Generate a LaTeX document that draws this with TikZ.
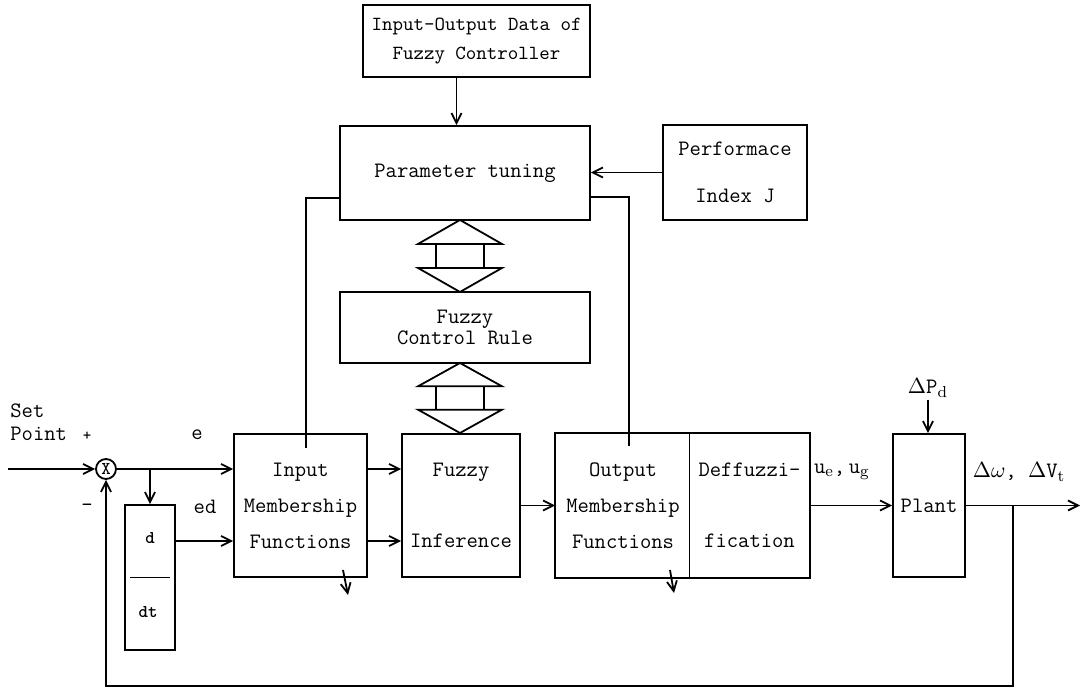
\documentclass[tikz,border=0pt]{standalone}
\usepackage{amsmath}
\usetikzlibrary{arrows.meta}

\tikzset{
  blk/.style={draw, line width=0.9pt, align=center, font=\fontsize{11}{13}\selectfont\ttfamily},
  txt/.style={font=\fontsize{11}{13}\selectfont\ttfamily, inner sep=1pt},
  link/.style={line width=0.9pt},
  >={Straight Barb[length=5pt,width=5pt]}
}

\begin{document}
\begin{tikzpicture}[x=0.5pt,y=-0.5pt]
    \useasboundingbox (0,0) rectangle (1087,688);

    % Draw nodes
    \node[blk, minimum width=113.5pt, minimum height=36pt, font=\fontsize{10}{12}\selectfont\ttfamily] (iodata) at (476.5,41) {Input-Output Data of\\[2.5pt]Fuzzy Controller};
    \node[blk, minimum width=125pt, minimum height=47pt] (tuning) at (465,173) {Parameter tuning};
    \node[blk, minimum width=72pt, minimum height=47.5pt] (perf) at (735,172.5) {Performace\\[10.5pt]Index J};
    \node[blk, minimum width=125pt, minimum height=35.5pt] (rule) at (465,327.5) {Fuzzy\\[-2.5pt]Control Rule};
    \node[blk, minimum width=66.5pt, minimum height=71.5pt] (inmf) at (300.5,505.5) {Input\\[5pt]Membership\\[5pt]Functions};
    \node[blk, minimum width=59pt, minimum height=71.5pt] (infer) at (461,505.5) {Fuzzy\\[22.5pt]Inference};
    \node[blk, draw=none, minimum width=67pt, minimum height=71.5pt] (outmf) at (623,505.5) {Output\\[5pt]Membership\\[5pt]Functions};
    \node[blk, draw=none, minimum width=59.5pt, minimum height=71.5pt] (defz) at (749.5,505.5) {Deffuzzi-\\[22.5pt]fication};
    \node[blk, minimum width=36pt, minimum height=71.5pt] (plant) at (929,505.5) {Plant};
    \node[blk, minimum width=25pt, minimum height=72.5pt] (deriv) at (150,577.5) {};
    \node[circle, draw, line width=0.9pt, minimum size=10pt, inner sep=0pt, font=\fontsize{9}{9}\selectfont\ttfamily] (sum) at (106,469) {X};

    % Output block and its divider
    \draw[link] (outmf.north west) rectangle (defz.south east);
    \draw[line width=0.5pt] (defz.north west) -- (defz.south west);

    % d/dt
    \node[txt, font=\fontsize{9}{11}\selectfont\ttfamily\bfseries] (dnum) at (150,538) {d};
    \node[txt, font=\fontsize{9}{11}\selectfont\ttfamily\bfseries] (dden) at (148,612) {dt};
    \draw[link] ([xshift=3pt]deriv.west) -- ([xshift=-3pt]deriv.east);

    % Labels
    \node[txt, anchor=west, align=left] (setpt) at (8,422.5) {Set\\[-1.5pt]Point};
    \node[txt, font=\fontsize{8}{8}\selectfont\ttfamily] (plus) at (87,436) {+};
    \node[txt] (minus) at (87,508) {-};
    \node[txt] (elbl) at (197,435) {e};
    \node[txt] (edlbl) at (205,507) {ed};
    \node[txt] (ulbl) at (842,472) {u$_\mathrm{e}$,\,u$_\mathrm{g}$};
    \node[txt] (pd) at (928,388) {$\Delta$P$_\mathrm{d}$};
    \node[txt] (ylbl) at (1019,472) {$\Delta\omega$, $\Delta$V$_\mathrm{t}$};

    % Free ends
    \coordinate (sp) at (8,469);
    \coordinate (edrow) at (0,541);
    \coordinate (tapL) at (306,198);
    \coordinate (inp) at (306,448);
    \coordinate (tapR) at (629,197);
    \coordinate (outp) at (629,446);
    \coordinate (fb) at (1013,505.5);
    \coordinate (out) at (1080,505.5);
    \coordinate (bot) at (0,686);
    \coordinate (inA) at (343,570);
    \coordinate (inB) at (348,595);
    \coordinate (outA) at (670,570);
    \coordinate (outB) at (674,593);

    % Draw connections
    \draw[link,->] ([xshift=-10pt]iodata.south) -- ([xshift=-10pt]iodata.south |- tuning.north);
    \draw[link,->] (perf.west) -- (perf.west -| tuning.east);
    \draw[link] (tapL -| tuning.west) -- (tapL) -- (inp);
    \draw[link] (tapR -| tuning.east) -- (tapR) -- (outp);
    \draw[link,->] (sp) -- (sum);
    \draw[link,->] (sum) -- (sum -| inmf.west);
    \draw[link,->] (sum -| deriv.north) -- (deriv.north);
    \draw[link,->] (deriv.east |- edrow) -- (inmf.west |- edrow);
    \draw[link,->] (inmf.east |- sum) -- (infer.west |- sum);
    \draw[link,->] (inmf.east |- edrow) -- (infer.west |- edrow);
    \draw[link,->] (infer.east) -- (outmf.west);
    \draw[link,->] (defz.east) -- (plant.west);
    \draw[link,->] (pd.south) -- (pd.south |- plant.north);
    \draw[link,->] (plant.east) -- (out);
    \draw[link,->] (fb) -- (fb |- bot) -| (sum.south);
    \draw[link,->] (inA) -- (inB);
    \draw[link,->] (outA) -- (outB);

    % Hollow double arrows
    \foreach \ya/\yb in {220/292, 363/433} {
        \pgfmathsetmacro\yc{\ya+(\yb-\ya)/3}
        \pgfmathsetmacro\yd{\ya+2*(\yb-\ya)/3}
        \draw[link] (418,\yc) -- (460,\ya) -- (502,\yc) -- cycle;
        \draw[link] (436,\yc) -- (436,\yd) (484,\yc) -- (484,\yd);
        \draw[link] (418,\yd) -- (460,\yb) -- (502,\yd) -- cycle;
    }
\end{tikzpicture}
\end{document}
